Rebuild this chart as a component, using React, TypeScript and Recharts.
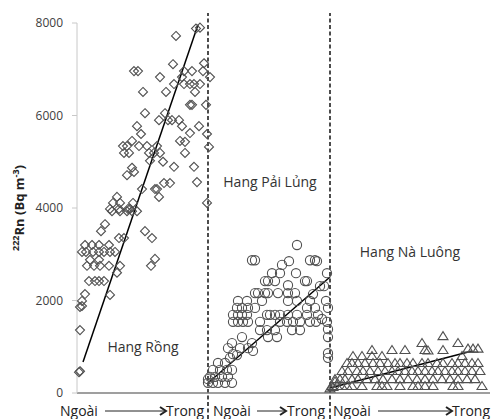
import {
  ScatterChart,
  Scatter,
  XAxis,
  YAxis,
  ReferenceLine,
} from 'recharts';

// x = position along the cave (same units as the x axis), y = 222Rn in Bq m-3
const Y_TICKS = [0, 2000, 4000, 6000, 8000];
const X_DOMAIN: [number, number] = [0, 413];
const DIVIDERS = [131, 253];

const HANG_RONG: [number, number][] = [
  [119, 7880], [123, 7900], [99, 7720], [57, 6960], [61, 6960], [96, 7110], [127, 7130],
  [107, 6960], [115, 6960], [126, 6960], [133, 6830], [83, 6830], [105, 6830], [97, 6680],
  [107, 6680], [113, 6680], [117, 6680], [123, 6680], [66, 6510], [89, 6510], [118, 6510],
  [113, 6230], [115, 6230], [129, 6230], [68, 6050], [88, 6050], [91, 5900], [95, 5900],
  [102, 5900], [60, 5770], [82, 5900], [105, 5770], [122, 5770], [64, 5600], [113, 5620],
  [130, 5600], [55, 5450], [103, 5450], [108, 5430], [46, 5340], [50, 5340], [62, 5340],
  [70, 5340], [80, 5340], [132, 5320], [47, 5190], [52, 5190], [72, 5190], [77, 5190],
  [83, 5190], [108, 5190], [73, 5020], [86, 5000], [55, 4870], [57, 4780], [97, 4890],
  [117, 4890], [50, 4710], [87, 4540], [93, 4540], [120, 4560], [78, 4410], [80, 4410],
  [65, 4410], [82, 4240], [40, 4240], [36, 4110], [43, 4110], [56, 4110], [130, 4110],
  [33, 3980], [42, 3980], [51, 3980], [53, 3980], [35, 3930], [43, 3930], [50, 3930],
  [55, 3930], [60, 3930], [28, 3650], [24, 3500], [68, 3500], [75, 3350], [42, 3350],
  [47, 3350], [8, 3200], [15, 3200], [22, 3200], [32, 3200], [5, 3050], [9, 3050],
  [16, 3050], [22, 3050], [27, 3050], [33, 3050], [38, 3050], [13, 2880], [22, 2880],
  [78, 2900], [74, 2750], [10, 2750], [17, 2750], [23, 2750], [32, 2750], [43, 2750],
  [40, 2600], [12, 2420], [18, 2420], [22, 2420], [27, 2420], [33, 2120], [8, 2140],
  [5, 1990], [3, 1860], [5, 1880], [3, 1360], [2, 450], [3, 470],
];

const HANG_PAI_LUNG: [number, number][] = [
  [220, 3200], [175, 2870], [178, 2870], [233, 2870], [238, 2870], [240, 2850], [205, 2770],
  [212, 2850], [195, 2590], [203, 2590], [219, 2590], [250, 2590], [188, 2420], [191, 2420],
  [198, 2420], [228, 2420], [230, 2420], [211, 2330], [243, 2310], [247, 2310], [178, 2160],
  [181, 2160], [188, 2160], [191, 2160], [201, 2160], [211, 2160], [218, 2160], [236, 2140],
  [161, 1990], [170, 1990], [185, 1990], [211, 1990], [220, 1990], [233, 1990], [249, 1990],
  [160, 1840], [165, 1840], [171, 1840], [178, 1840], [230, 1840], [238, 1840], [251, 1840],
  [156, 1690], [161, 1690], [165, 1690], [170, 1690], [190, 1690], [193, 1690], [198, 1690],
  [203, 1690], [211, 1690], [220, 1690], [230, 1690], [241, 1690], [245, 1600], [156, 1540],
  [161, 1540], [166, 1540], [171, 1540], [183, 1540], [203, 1540], [210, 1540], [216, 1540],
  [223, 1540], [233, 1540], [239, 1540], [250, 1540], [183, 1360], [190, 1360], [198, 1360],
  [215, 1360], [223, 1360], [251, 1380], [165, 1210], [191, 1210], [200, 1210], [251, 1210],
  [175, 1080], [155, 1080], [151, 970], [163, 970], [171, 970], [176, 910], [251, 860],
  [251, 760], [156, 840], [160, 820], [153, 760], [148, 650], [141, 650], [136, 500],
  [143, 500], [150, 500], [155, 500], [138, 350], [145, 350], [151, 350], [133, 350],
  [131, 220], [136, 220], [141, 220], [148, 220], [155, 220], [131, 300],
];

const HANG_NA_LUONG: [number, number][] = [
  [366, 1230], [345, 1080], [381, 1080], [295, 930], [315, 930], [328, 930], [348, 930],
  [351, 920], [366, 930], [391, 960], [396, 960], [401, 960], [276, 800], [285, 800],
  [295, 800], [305, 800], [385, 800],
  [270, 650], [275, 650], [281, 650], [288, 650], [296, 650], [303, 650], [311, 650],
  [318, 650], [323, 650], [330, 650], [336, 650], [345, 650], [351, 650], [360, 650],
  [366, 650], [375, 650], [381, 650], [388, 650], [395, 650], [401, 650],
  [265, 475], [271, 475], [280, 475], [286, 475], [293, 475], [301, 475], [308, 475],
  [315, 475], [321, 475], [328, 475], [335, 475], [341, 475], [348, 475], [355, 475],
  [361, 475], [368, 475], [375, 475], [381, 475], [388, 475], [395, 475], [403, 475],
  [258, 300], [263, 300], [268, 300], [275, 300], [281, 300], [290, 300], [298, 300],
  [306, 300], [315, 300], [323, 300], [331, 300], [340, 300], [348, 300], [356, 300],
  [365, 300], [373, 300], [381, 300], [390, 300], [398, 300],
  [255, 150], [260, 150], [265, 150], [270, 150], [275, 150], [285, 150], [300, 150],
  [305, 150], [310, 150], [323, 150], [336, 150], [341, 150], [348, 150], [356, 150],
  [376, 150], [381, 150], [405, 150], [253, 100], [256, 130], [258, 250],
];

// linear trend end points for each cave
const TRENDS: [number, number][][] = [
  [[6, 670], [121, 7960]],
  [[131, 216], [253, 2508]],
  [[253, 108], [395, 908]],
];

const toPoints = (rows: [number, number][]) => rows.map(([x, y]) => ({ x, y }));

const MARK = '#505050';

const Diamond = (p: any) => (
  <path
    d={`M${p.cx},${p.cy - 4.5}L${p.cx + 4.5},${p.cy}L${p.cx},${p.cy + 4.5}L${p.cx - 4.5},${p.cy}Z`}
    fill="none"
    stroke={MARK}
    strokeWidth={1.1}
  />
);
const Ring = (p: any) => <circle cx={p.cx} cy={p.cy} r={4.6} fill="none" stroke={MARK} strokeWidth={1.1} />;
const Tri = (p: any) => (
  <path
    d={`M${p.cx},${p.cy - 4.5}L${p.cx + 5},${p.cy + 3.5}L${p.cx - 5},${p.cy + 3.5}Z`}
    fill="none"
    stroke={MARK}
    strokeWidth={1.1}
  />
);

const FONT = '"Open Sans", sans-serif';

function Arrow({ x1, x2, y }: { x1: number; x2: number; y: number }) {
  return (
    <g stroke="#222" fill="none">
      <line x1={x1} y1={y} x2={x2} y2={y} strokeWidth={1} />
      <polyline points={`${x2 - 6},${y - 4} ${x2},${y} ${x2 - 6},${y + 4}`} strokeWidth={2} />
    </g>
  );
}

export default function App() {
  return (
    <div style={{ position: 'absolute', left: 0, top: 0, width: 492, height: 419, background: '#fff' }}>
      <ScatterChart width={492} height={419} margin={{ top: 23, right: 2, bottom: 0, left: 0 }}>
        <XAxis
          type="number"
          dataKey="x"
          domain={X_DOMAIN}
          tick={false}
          tickLine={false}
          height={26}
          axisLine={{ stroke: '#7f7f7f', strokeWidth: 1.5 }}
        />
        <YAxis
          type="number"
          dataKey="y"
          domain={[0, 8000]}
          ticks={Y_TICKS}
          width={77}
          tickSize={5}
          tickMargin={9}
          axisLine={{ stroke: '#c8c8c8' }}
          tickLine={{ stroke: '#c8c8c8' }}
          tick={{ fill: '#404040', fontSize: 12, fontFamily: FONT }}
        />
        {DIVIDERS.map((d) => (
          <ReferenceLine
            key={d}
            segment={[{ x: d, y: -560 }, { x: d, y: 8215 }]}
            ifOverflow="visible"
            stroke="#000"
            strokeWidth={1.4}
            strokeDasharray="4 2.5"
          />
        ))}
        <Scatter data={toPoints(HANG_RONG)} shape={Diamond} isAnimationActive={false} />
        <Scatter data={toPoints(HANG_PAI_LUNG)} shape={Ring} isAnimationActive={false} />
        <Scatter data={toPoints(HANG_NA_LUONG)} shape={Tri} isAnimationActive={false} />
        {TRENDS.map((t, i) => (
          <ReferenceLine
            key={i}
            segment={t.map(([x, y]) => ({ x, y }))}
            ifOverflow="visible"
            stroke="#000"
            strokeWidth={1.5}
          />
        ))}
      </ScatterChart>
      <svg
        width={492}
        height={419}
        style={{ position: 'absolute', left: 0, top: 0, pointerEvents: 'none' }}
        fontFamily={FONT}
      >
        <text
          transform="translate(24,208) rotate(-90)"
          textAnchor="middle"
          fontSize={13}
          fontWeight="bold"
          fill="#222"
        >
          <tspan fontSize={9} dy={-5}>222</tspan>
          <tspan dy={5}>Rn (Bq m</tspan>
          <tspan fontSize={9} dy={-5}>-3</tspan>
          <tspan dy={5}>)</tspan>
        </text>
        <text x={143} y={352} textAnchor="middle" fontSize={14} fill="#333">Hang Rồng</text>
        <text x={270} y={187} textAnchor="middle" fontSize={14} fill="#333">Hang Pải Lủng</text>
        <text x={410} y={257} textAnchor="middle" fontSize={14} fill="#333">Hang Nà Luông</text>
        <g fontSize={14} fill="#222">
          <text x={60} y={416}>Ngoài</text>
          <Arrow x1={105} x2={166} y={411} />
          <text x={166} y={416}>Trong</text>
          <text x={213} y={416}>Ngoài</text>
          <Arrow x1={257} x2={286} y={411} />
          <text x={287} y={416}>Trong</text>
          <text x={333} y={416}>Ngoài</text>
          <Arrow x1={378} x2={452} y={411} />
          <text x={452} y={416}>Trong</text>
        </g>
      </svg>
    </div>
  );
}
